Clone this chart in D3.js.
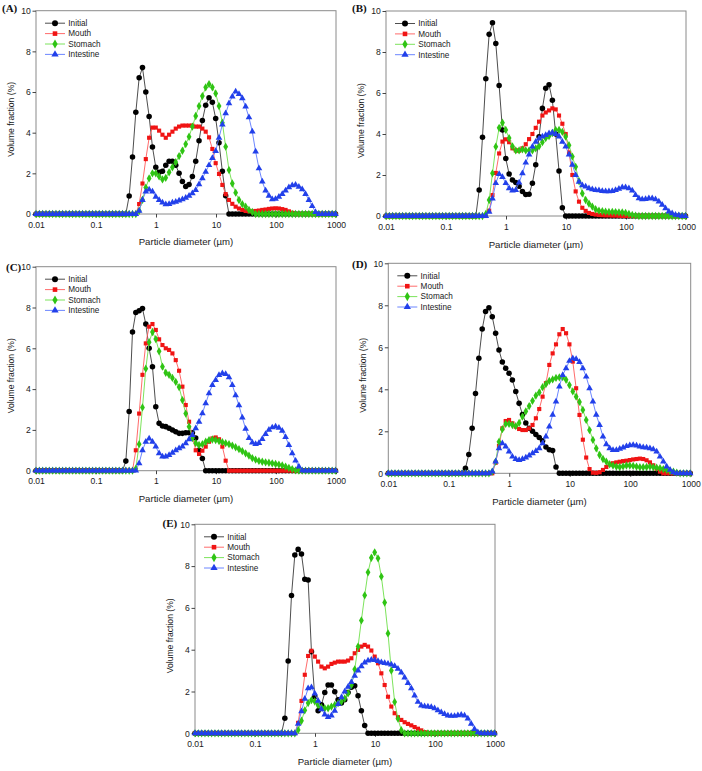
<!DOCTYPE html>
<html><head><meta charset="utf-8">
<script src="https://cdn.jsdelivr.net/npm/d3@7"></script>
<style>body{margin:0;background:#fff}svg{display:block}</style>
</head><body><svg id="c" width="702" height="771"></svg>
<script>
// Particle size classes (µm)
const sizes = [
0.01,0.01136,0.01291,0.01467,0.01666,0.01893,0.02151,0.02444,0.02777,0.03155,
0.03585,0.04073,0.04628,0.05258,0.05975,0.06789,0.07713,0.08764,0.09958,0.1131,
0.1286,0.1461,0.166,0.1886,0.2143,0.2435,0.2766,0.3143,0.3571,0.4058,
0.461,0.5238,0.5952,0.6762,0.7683,0.873,0.9919,1.127,1.281,1.455,
1.653,1.878,2.134,2.425,2.755,3.13,3.557,4.041,4.592,5.217,
5.928,6.735,7.653,8.695,9.88,11.23,12.76,14.49,16.47,18.71,
21.26,24.15,27.44,31.18,35.43,40.26,45.74,51.97,59.05,67.09,
76.23,86.61,98.41,111.8,127.1,144.4,164,186.4,211.8,240.6,
273.4,310.6,352.9,401,455.6,517.7,588.2,668.3,759.3,862.7,
980.2];

const seriesNames = ["Initial","Mouth","Stomach","Intestine"];
const panelLabels = ["(A)","(B)","(C)","(D)","(E)"];
const xTicks = [0.01,0.1,1,10,100,1000];
const xTickLabels = ["0.01","0.1","1","10","100","1000"];
const yTicks = [0,2,4,6,8,10];
const xTitle = "Particle diameter (µm)";
const yTitle = "Volume fraction (%)";

// ---- Panel A ----
const initialA = [
0,0,0,0,0,0,0,0,0,0, 0,0,0,0,0,0,0,0,0,0,
0,0,0,0,0,0,0,0,0.89,2.8,
5.0,6.7,7.2,6.0,4.8,3.3,2.3,2.05,2.1,2.4,
2.6,2.6,2.4,2.0,1.6,1.35,1.45,1.85,2.6,3.6,
4.6,5.35,5.72,5.5,4.7,3.5,2.1,0.9,0,0,
0,0,0,0,0,0,0,0,0,0, 0,0,0,0,0,0,0,0,0,0, 0,0,0,0,0,0,0,0,0,0, 0];
const mouthA = [
0,0,0,0,0,0,0,0,0,0, 0,0,0,0,0,0,0,0,0,0, 0,0,0,0,0,0,0,0,0,0,
0,0.49,1.5,2.7,3.75,4.25,4.25,4.1,3.9,3.75,
3.9,4.05,4.2,4.3,4.35,4.35,4.35,4.35,4.3,4.3,
4.2,4.05,3.77,3.2,2.5,1.97,1.43,0.98,0.69,0.5,
0.36,0.27,0.2,0.15,0.13,0.13,0.15,0.17,0.2,0.22,
0.25,0.27,0.28,0.27,0.24,0.2,0.13,0.06,0,0,
0,0,0,0,0,0,0,0,0,0, 0];
const stomachA = [
0,0,0,0,0,0,0,0,0,0, 0,0,0,0,0,0,0,0,0,0, 0,0,0,0,0,0,0,0,0,0,
0,0.16,0.7,1.3,1.75,2.0,2.0,1.85,1.7,1.78,
2.05,2.3,2.55,2.85,3.11,3.44,3.8,4.3,4.82,5.31,
5.8,6.23,6.39,6.23,5.93,5.31,4.49,3.31,2.16,1.5,
1.05,0.69,0.49,0.36,0.2,0.1,0,0,0,0,
0,0,0,0,0,0,0,0,0,0, 0,0,0,0,0,0,0,0,0,0, 0];
const intestineA = [
0,0,0,0,0,0,0,0,0,0, 0,0,0,0,0,0,0,0,0,0, 0,0,0,0,0,0,0,0,0,0,
0,0.16,0.69,1.1,1.2,1.1,0.85,0.69,0.56,0.48,
0.49,0.56,0.6,0.66,0.72,0.79,0.89,1.02,1.18,1.46,
1.75,2.08,2.4,2.75,3.1,3.75,4.4,4.95,5.44,5.77,
6.02,5.9,5.69,5.28,4.75,4.05,3.07,2.25,1.59,1.15,
0.89,0.72,0.74,0.85,0.98,1.15,1.31,1.41,1.43,1.34,
1.21,0.98,0.69,0.39,0.1,0,0,0,0,0, 0];

// ---- Panel B ----
const initialB = [
0,0,0,0,0,0,0,0,0,0, 0,0,0,0,0,0,0,0,0,0,
0,0,0,0,0,0,0,0,1.27,3.84,
6.7,8.86,9.43,8.42,6.37,4.2,2.8,2.05,1.76,1.63,
1.45,1.2,1.05,1.06,1.6,2.5,3.87,5.25,6.23,6.4,
5.65,4.0,2.2,0.4,0,0,0,0,0,0,
0,0,0,0,0,0,0,0,0,0, 0,0,0,0,0,0,0,0,0,0, 0,0,0,0,0,0,0,0,0,0, 0];
const mouthB = [
0,0,0,0,0,0,0,0,0,0, 0,0,0,0,0,0,0,0,0,0, 0,0,0,0,0,0,0,0,0,0,
0,0.26,1.02,2.1,3.05,3.63,3.74,3.6,3.3,3.2,
3.19,3.3,3.5,3.75,4.0,4.3,4.6,4.9,5.05,5.15,
5.25,5.2,4.9,4.5,4.0,3.1,2.0,1.2,0.7,0.4,
0.25,0.15,0.1,0.07,0.05,0.04,0.03,0.03,0.02,0.02,
0.01,0,0,0,0,0,0,0,0,0,
0,0,0,0,0,0,0,0,0,0, 0];
const stomachB = [
0,0,0,0,0,0,0,0,0,0, 0,0,0,0,0,0,0,0,0,0, 0,0,0,0,0,0,0,0,0,0,
0.1,0.78,2.08,3.38,4.3,4.55,4.2,3.8,3.4,3.2,
3.2,3.25,3.2,3.2,3.2,3.3,3.4,3.6,3.8,3.9,
4.05,4.2,4.2,4.1,3.87,3.45,2.9,2.4,1.7,1.1,
0.78,0.6,0.46,0.33,0.26,0.23,0.21,0.2,0.2,0.19,
0.18,0.17,0.15,0.1,0.05,0.02,0,0,0,0,
0,0,0,0,0,0,0,0,0,0, 0];
const intestineB = [
0,0,0,0,0,0,0,0,0,0, 0,0,0,0,0,0,0,0,0,0, 0,0,0,0,0,0,0,0,0,0,
0,0.2,0.85,1.6,2.05,1.9,1.6,1.35,1.24,1.27,
1.63,2.08,2.6,3.0,3.38,3.62,3.78,3.87,3.95,4.03,
4.07,4.0,3.87,3.62,3.38,3.0,2.5,2.0,1.67,1.5,
1.43,1.35,1.3,1.27,1.25,1.22,1.2,1.2,1.22,1.27,
1.33,1.4,1.4,1.35,1.24,1.02,0.86,0.81,0.83,0.86,
0.86,0.81,0.7,0.54,0.37,0.21,0.13,0.06,0.03,0, 0];

// ---- Panel C ----
const initialC = [
0,0,0,0,0,0,0,0,0,0, 0,0,0,0,0,0,0,0,0,0,
0,0,0,0,0,0,0,0.47,2.9,6.8,
7.75,7.84,7.95,7.19,6.0,5.1,3.14,2.32,2.19,2.16,
2.08,1.99,1.91,1.83,1.83,1.86,1.86,1.86,1.6,1.0,
0.6,0,0,0,0,0,0,0,0,0,
0,0,0,0,0,0,0,0,0,0, 0,0,0,0,0,0,0,0,0,0, 0,0,0,0,0,0,0,0,0,0, 0];
const mouthC = [
0,0,0,0,0,0,0,0,0,0, 0,0,0,0,0,0,0,0,0,0, 0,0,0,0,0,0,0,0,0,0,
1.0,2.8,4.7,6.24,7.06,7.19,6.9,6.44,6.16,6.0,
5.92,5.75,5.42,4.9,4.12,3.22,2.4,1.67,1.0,0.82,
0.98,1.18,1.42,1.58,1.63,1.54,1.18,0.49,0,0,
0,0,0,0,0,0,0,0,0,0, 0,0,0,0,0,0,0,0,0,0, 0,0,0,0,0,0,0,0,0,0, 0];
const stomachC = [
0,0,0,0,0,0,0,0,0,0, 0,0,0,0,0,0,0,0,0,0, 0,0,0,0,0,0,0,0,0,0,
0.1,1.3,3.1,5.0,6.3,6.8,6.45,5.85,5.1,4.8,
4.7,4.55,4.35,4.1,3.46,2.8,2.16,1.6,1.35,1.26,
1.3,1.42,1.5,1.53,1.5,1.45,1.4,1.35,1.3,1.23,
1.15,1.06,0.96,0.85,0.74,0.62,0.54,0.48,0.44,0.41,
0.39,0.36,0.33,0.3,0.26,0.2,0.14,0.08,0.02,0,
0,0,0,0,0,0,0,0,0,0, 0];
const intestineC = [
0,0,0,0,0,0,0,0,0,0, 0,0,0,0,0,0,0,0,0,0, 0,0,0,0,0,0,0,0,0,0,
0,0.36,1.0,1.42,1.58,1.42,1.18,0.85,0.69,0.69,
0.77,0.88,1.0,1.1,1.18,1.34,1.54,1.75,2.08,2.4,
2.81,3.3,3.79,4.2,4.44,4.69,4.77,4.74,4.58,4.2,
3.7,3.2,2.6,2.05,1.6,1.38,1.3,1.35,1.55,1.8,
2.0,2.12,2.16,2.1,1.95,1.65,1.26,0.85,0.49,0.2,
0,0,0,0,0,0,0,0,0,0, 0];

// ---- Panel D ----
const initialD = [
0,0,0,0,0,0,0,0,0,0, 0,0,0,0,0,0,0,0,0,0,
0,0,0,0.24,0.9,2.15,3.8,5.48,6.87,7.7,
7.88,7.45,6.67,5.87,5.3,5.0,4.76,4.44,3.89,3.33,
2.8,2.4,2.15,2.0,1.85,1.7,1.55,1.25,1.12,1.08,
0.3,0,0,0,0,0,0,0,0,0,
0,0,0,0,0,0,0,0,0,0, 0,0,0,0,0,0,0,0,0,0, 0,0,0,0,0,0,0,0,0,0, 0];
const mouthD = [
0,0,0,0,0,0,0,0,0,0, 0,0,0,0,0,0,0,0,0,0, 0,0,0,0,0,0,0,0,0,0,
0,0,0.5,1.3,2.14,2.49,2.54,2.38,2.22,2.11,
2.06,2.06,2.14,2.3,2.62,3.06,3.65,4.29,5.16,5.71,
6.14,6.62,6.87,6.67,6.14,5.32,4.05,2.78,1.6,0.75,
0.2,0.03,0.02,0.05,0.16,0.3,0.42,0.48,0.52,0.55,
0.58,0.6,0.63,0.66,0.68,0.7,0.68,0.62,0.52,0.38,
0.22,0.08,0,0,0,0,0,0,0,0, 0];
const stomachD = [
0,0,0,0,0,0,0,0,0,0, 0,0,0,0,0,0,0,0,0,0, 0,0,0,0,0,0,0,0,0,0,
0,0.08,0.56,1.5,2.1,2.35,2.35,2.3,2.25,2.4,
2.7,2.95,3.2,3.45,3.7,3.85,4.1,4.25,4.4,4.47,
4.54,4.57,4.58,4.45,4.2,3.9,3.65,3.4,3.02,2.54,
2.06,1.59,1.19,0.87,0.68,0.56,0.43,0.37,0.32,0.3,
0.33,0.37,0.37,0.35,0.32,0.29,0.29,0.3,0.32,0.29,
0.27,0.24,0.2,0.16,0.11,0.08,0.03,0,0,0, 0];
const intestineD = [
0,0,0,0,0,0,0,0,0,0, 0,0,0,0,0,0,0,0,0,0, 0,0,0,0,0,0,0,0,0,0,
0,0.08,0.56,1.19,1.43,1.27,1.03,0.79,0.68,0.63,
0.68,0.75,0.84,0.95,1.06,1.19,1.43,1.75,2.22,2.78,
3.41,4.13,4.68,5.0,5.35,5.48,5.44,5.3,5.0,4.6,
4.05,3.41,2.78,2.3,1.75,1.38,1.19,1.11,1.11,1.16,
1.22,1.29,1.33,1.35,1.32,1.27,1.24,1.22,1.19,1.14,
1.03,0.79,0.56,0.32,0.16,0.05,0,0,0,0, 0];

// ---- Panel E ----
const initialE = [
0,0,0,0,0,0,0,0,0,0, 0,0,0,0,0,0,0,0,0,0,
0,0,0,0,0,0,0,0.72,3.46,6.59,
8.53,8.8,8.58,7.37,7.34,3.9,1.75,1.08,1.36,1.95,
2.31,2.31,1.99,1.6,1.45,1.6,1.95,2.2,2.28,1.8,
1.08,0.37,0,0,0,0,0,0,0,0,
0,0,0,0,0,0,0,0,0,0, 0,0,0,0,0,0,0,0,0,0, 0,0,0,0,0,0,0,0,0,0, 0];
const mouthE = [
0,0,0,0,0,0,0,0,0,0, 0,0,0,0,0,0,0,0,0,0, 0,0,0,0,0,0,0,0,0,0,
0,0.5,1.55,2.8,3.7,3.95,3.67,3.43,3.19,3.11,
3.19,3.32,3.38,3.43,3.43,3.43,3.48,3.59,3.83,3.99,
4.15,4.23,4.15,3.96,3.67,3.35,2.87,2.31,1.75,1.28,
0.96,0.77,0.64,0.53,0.45,0.38,0.3,0.22,0.14,0.06,
0,0,0,0,0,0,0,0,0,0, 0,0,0,0,0,0,0,0,0,0, 0];
const stomachE = [
0,0,0,0,0,0,0,0,0,0, 0,0,0,0,0,0,0,0,0,0, 0,0,0,0,0,0,0,0,0,0,
0,0.16,0.6,1.1,1.45,1.59,1.52,1.36,1.24,1.2,
1.2,1.28,1.36,1.44,1.52,1.67,1.91,2.31,3.06,4.15,
5.4,6.6,7.7,8.4,8.66,8.37,7.5,6.26,4.78,3.0,
1.5,0.7,0.15,0,0,0,0,0,0,0,
0,0,0,0,0,0,0,0,0,0, 0,0,0,0,0,0,0,0,0,0, 0];
const intestineE = [
0,0,0,0,0,0,0,0,0,0, 0,0,0,0,0,0,0,0,0,0, 0,0,0,0,0,0,0,0,0,0,
0,0.45,1.05,1.65,2.15,2.2,1.9,1.55,1.15,0.9,
0.78,0.85,1.08,1.4,1.72,2.0,2.22,2.45,2.75,3.0,
3.2,3.38,3.48,3.51,3.5,3.45,3.4,3.36,3.33,3.29,
3.22,3.08,2.9,2.67,2.4,2.15,1.8,1.5,1.33,1.29,
1.28,1.26,1.2,1.1,1.0,0.92,0.85,0.83,0.83,0.86,
0.88,0.85,0.7,0.45,0.2,0.05,0,0,0,0, 0];

// ---- layout & style (kept separate from data) ----
const panels = [
  {label: panelLabels[0], series: [initialA, mouthA, stomachA, intestineA], box: [36, 10.7, 300, 203.3], lab: [2, 12]},
  {label: panelLabels[1], series: [initialB, mouthB, stomachB, intestineB], box: [386, 11, 300, 205], lab: [352, 12]},
  {label: panelLabels[2], series: [initialC, mouthC, stomachC, intestineC], box: [36, 266.7, 300, 204], lab: [6, 271]},
  {label: panelLabels[3], series: [initialD, mouthD, stomachD, intestineD], box: [388.3, 263.3, 302.4, 210], lab: [352, 268]},
  {label: panelLabels[4], series: [initialE, mouthE, stomachE, intestineE], box: [195, 524.3, 300, 209], lab: [162.5, 527]}
];
const styles = [
  {fill: "#000000", line: "#3a3a3a", sym: d3.symbolCircle, size: 24},
  {fill: "#f01414", line: "#ff5a5a", sym: d3.symbolSquare, size: 17},
  {fill: "#2fc414", line: "#6ee04a", sym: d3.symbolDiamond, size: 20},
  {fill: "#2240ea", line: "#5b78ff", sym: d3.symbolTriangle, size: 19}
];
const FONT = "Arial, 'Liberation Sans', sans-serif";

panels.forEach(p => p.series.forEach((s, k) => {
  if (s.length !== sizes.length) throw new Error(p.label + " " + seriesNames[k] + " length " + s.length);
}));

const svg = d3.select("#c");
svg.append("rect").attr("width", 702).attr("height", 771).attr("fill", "#fff");

panels.forEach(p => {
  const [L, T, W, H] = p.box;
  const g = svg.append("g").attr("transform", `translate(${L},${T})`);
  const x = d3.scaleLog().domain([0.01, 1000]).range([0, W]);
  const y = d3.scaleLinear().domain([0, 10]).range([H, 0]);

  // frame
  g.append("rect").attr("width", W).attr("height", H)
    .attr("fill", "none").attr("stroke", "#8a8a8a").attr("stroke-width", 1);

  // axes
  const ax = g.append("g").attr("transform", `translate(0,${H})`)
    .call(d3.axisBottom(x).tickValues(xTicks).tickFormat((d, i) => xTickLabels[i]).tickSize(3.5).tickPadding(4));
  const ay = g.append("g")
    .call(d3.axisLeft(y).tickValues(yTicks).tickFormat(d3.format("d")).tickSize(3.5).tickPadding(1.8));
  [ax, ay].forEach(a => {
    a.select(".domain").remove();
    a.selectAll("line").attr("stroke", "#444");
    a.selectAll("text").attr("font-family", FONT).attr("font-size", 8.6).attr("fill", "#1a1a1a");
  });

  // titles
  g.append("text").attr("x", W / 2).attr("y", H + 31.5).attr("text-anchor", "middle")
    .attr("font-family", FONT).attr("font-size", 9.6).attr("fill", "#1a1a1a").text(xTitle);
  g.append("text").attr("transform", `translate(-25.5,${H / 2 + 7}) rotate(-90)`)
    .attr("text-anchor", "middle").attr("dy", "0.35em")
    .attr("font-family", FONT).attr("font-size", 8.6).attr("fill", "#1a1a1a").text(yTitle);

  // panel label
  svg.append("text").attr("x", p.lab[0]).attr("y", p.lab[1])
    .attr("font-family", "'Liberation Serif', 'Times New Roman', serif").attr("font-weight", "bold")
    .attr("font-size", 11).attr("fill", "#111").text(p.label);

  // series
  p.series.forEach((vals, k) => {
    const st = styles[k];
    const pts = vals.map((v, i) => [sizes[i], v]);
    g.append("path").datum(pts)
      .attr("d", d3.line().x(d => x(d[0])).y(d => y(d[1])))
      .attr("fill", "none").attr("stroke", st.line).attr("stroke-width", 0.9);
    g.append("g").selectAll("path").data(pts).join("path")
      .attr("transform", d => `translate(${x(d[0])},${y(d[1])})`)
      .attr("d", d3.symbol().type(st.sym).size(st.size))
      .attr("fill", st.fill);
  });

  // legend
  const lg = g.append("g").attr("transform", `translate(9,12.5)`);
  seriesNames.forEach((name, k) => {
    const st = styles[k];
    const row = lg.append("g").attr("transform", `translate(0,${k * 10.4})`);
    row.append("line").attr("x1", 0).attr("x2", 20).attr("stroke", st.line).attr("stroke-width", 0.9);
    row.append("path").attr("transform", "translate(10,0)")
      .attr("d", d3.symbol().type(st.sym).size(st.size + 4)).attr("fill", st.fill);
    row.append("text").attr("x", 23.3).attr("dy", "0.35em")
      .attr("font-family", FONT).attr("font-size", 8.2).attr("fill", "#1a1a1a").text(name);
  });
});
</script></body></html>
